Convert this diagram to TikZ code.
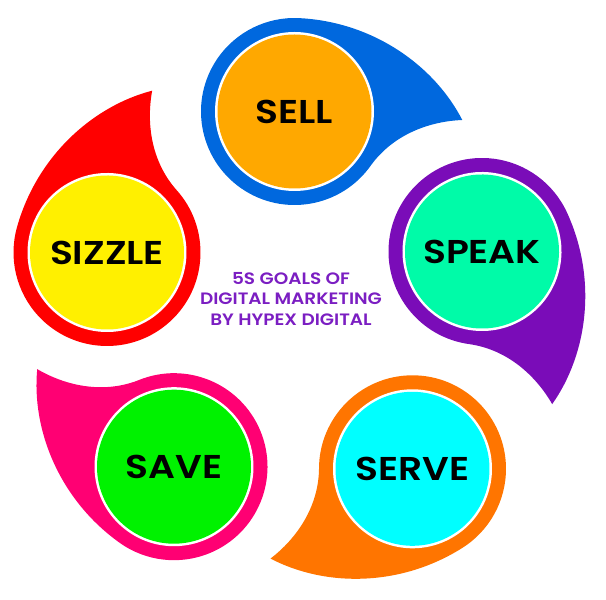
\documentclass[tikz,border=0pt]{standalone}
\usepackage{fontspec}
\setmainfont{Poppins}[BoldFont={Poppins SemiBold}]
\newfontfamily\goalfont{Poppins SemiBold}[FakeStretch=1.14]
\newfontfamily\titlefont{Poppins SemiBold}[FakeStretch=1.12]
\definecolor{sellout}{HTML}{0068DE}
\definecolor{sellin}{HTML}{FFA800}
\definecolor{speakout}{HTML}{7A0CB8}
\definecolor{speakin}{HTML}{00FBA8}
\definecolor{serveout}{HTML}{FF7500}
\definecolor{servein}{HTML}{00FFFF}
\definecolor{saveout}{HTML}{FF0073}
\definecolor{savein}{HTML}{00F200}
\definecolor{sizzout}{HTML}{FF0000}
\definecolor{sizzin}{HTML}{FFF000}
\definecolor{titlecol}{HTML}{7B1EC2}
\tikzset{
  goallabel/.style={font=\goalfont\fontsize{33}{38}\selectfont, text=black, inner sep=0pt},
  titletext/.style={font=\titlefont\fontsize{16.5}{20.7}\selectfont, text=titlecol, align=center, inner sep=0pt}
}
\begin{document}
\begin{tikzpicture}[x=1pt,y=1pt]
\useasboundingbox (0,0) rectangle (606,600);
\foreach \cx/\cy/\rot/\oc/\ic/\lab/\nm in {
    294.5/488.5/-2.9/sellout/sellin/SELL/sell,
    482/348.5/-65.3/speakout/speakin/SPEAK/speak,
    412.5/131.2/-147.7/serveout/servein/SERVE/serve,
    174/133.3/144.5/saveout/savein/SAVE/save,
    107/347.5/74.4/sizzout/sizzin/SIZZLE/sizzle}{
  \begin{scope}[shift={(\cx,\cy)}, rotate=\rot]
    \fill[\oc] (168,0) .. controls (135,-3) and (100,-18) .. (-32:93.5)
      arc[start angle=-32, end angle=-270, radius=93.5]
      .. controls +(0:75) and +(120:60) .. (168,0) -- cycle;
    \fill[white] (0,0) circle (79.5);
    \fill[\ic] (0,0) circle (77);
  \end{scope}
  \node[goallabel] (\nm) at (\cx,\cy) {\lab};
}
\node[titletext] (title) at (291,301) {5S GOALS OF\\DIGITAL MARKETING\\BY HYPEX DIGITAL};
\end{tikzpicture}
\end{document}
